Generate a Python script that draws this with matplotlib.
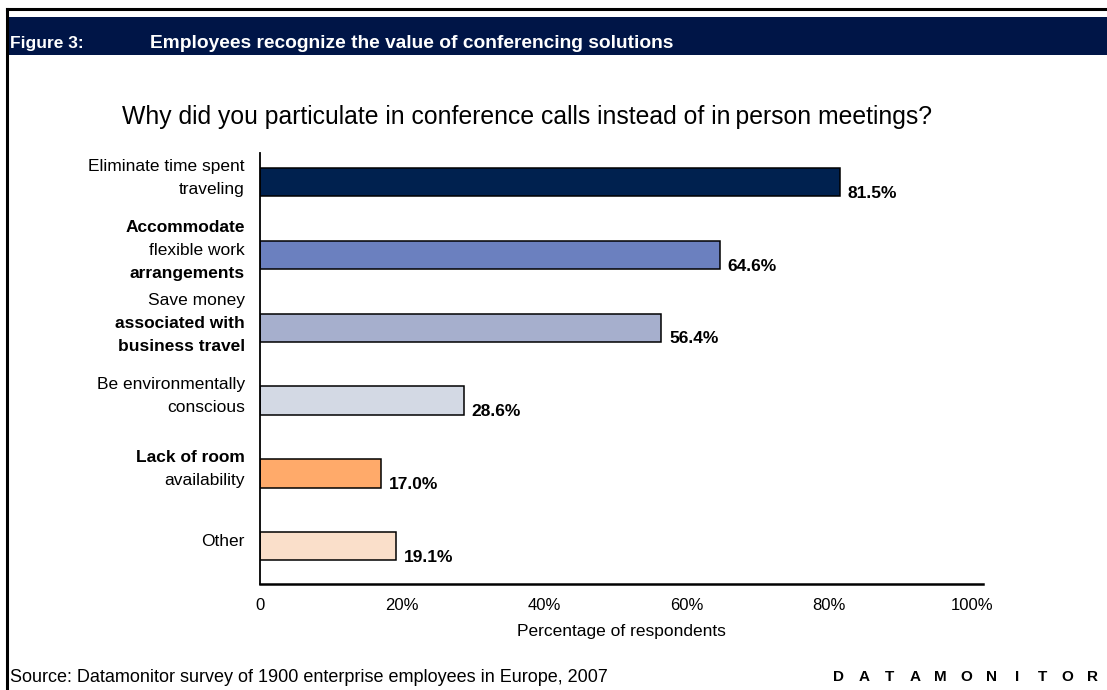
import matplotlib
matplotlib.use("Agg")
import matplotlib.pyplot as plt
from matplotlib.patches import Rectangle
from matplotlib.lines import Line2D
from matplotlib.transforms import blended_transform_factory, offset_copy

plt.rcParams['font.family'] = ['Liberation Sans', 'DejaVu Sans']

# ---- data ----
categories = [
    "Eliminate time spent\ntraveling",
    "Accommodate\nflexible work\narrangements",
    "Save money\nassociated with\nbusiness travel",
    "Be environmentally\nconscious",
    "Lack of room\navailability",
    "Other",
]
bold_lines = [
    [False, False],
    [True, False, True],
    [False, True, True],
    [False, False],
    [True, False],
    [False],
]
values = [81.5, 64.6, 56.4, 28.6, 17.0, 19.1]
value_labels = ["81.5%", "64.6%", "56.4%", "28.6%", "17.0%", "19.1%"]
bar_colors = ["#00214F", "#6B80BF", "#A6AFCD", "#D3D9E4", "#FFAA6A", "#FADFCA"]
xticks = [0, 20, 40, 60, 80, 100]
xtick_labels = ["0", "20%", "40%", "60%", "80%", "100%"]

title_prefix = "Figure 3:"
title_text = "Employees recognize the value of conferencing solutions"
subtitle = "Why did you particulate in conference calls instead of in\u2009person meetings?"
xlabel = "Percentage of respondents"
source = "Source: Datamonitor survey of 1900 enterprise employees in Europe, 2007"
brand = "DATAMONITOR"

W, H = 1107, 690
fig = plt.figure(figsize=(W / 100, H / 100), dpi=100)
fig.patch.set_facecolor("white")

def fx(px):
    return px / W

def fy(py):
    return 1 - py / H

# outer border lines (top and left)
fig.add_artist(Line2D([fx(7), 1], [fy(9), fy(9)], color="black", lw=2.2))
fig.add_artist(Line2D([fx(7), fx(7)], [fy(9), 0], color="black", lw=2.2))

# header bar
fig.add_artist(Rectangle((fx(9), fy(55)), 1 - fx(9), fy(17) - fy(55),
                         facecolor="#001547", edgecolor="none"))
fig.text(fx(10), fy(48), title_prefix, color="white", fontsize=12.5,
         fontweight="bold", va="baseline", ha="left")
fig.text(fx(150), fy(48), title_text, color="white", fontsize=13.8,
         fontweight="bold", va="baseline", ha="left")

# subtitle
fig.text(fx(527), fy(117), subtitle, fontsize=17.8, ha="center", va="center")

# axes
ax = fig.add_axes([fx(260), fy(584), fx(983) - fx(260), fy(153) - fy(584)])
n = len(categories)
ypos = list(range(n))
ax.barh(ypos, values, height=0.39, color=bar_colors, edgecolor="black",
        linewidth=1.1)
ax.set_xlim(0, 101.6)
ax.set_ylim(n - 0.48, -0.4)
for s in ["top", "right"]:
    ax.spines[s].set_visible(False)
ax.spines["left"].set_linewidth(1.3)
ax.spines["bottom"].set_linewidth(1.8)
ax.set_xticks(xticks)
ax.set_xticklabels(xtick_labels, fontsize=12)
ax.tick_params(axis="x", length=0, pad=10)
ax.set_yticks([])
ax.set_xlabel(xlabel, fontsize=12.5, labelpad=8)

# value labels
for y, v, lab in zip(ypos, values, value_labels):
    ax.annotate(lab, xy=(v, y), xytext=(5.5, -8), textcoords="offset points",
                fontsize=12.5, fontweight="bold", ha="left", va="center")

# category labels (line by line, mixed weights)
trans = blended_transform_factory(ax.transAxes, ax.transData)
line_step = 16.5  # points
for y, cat, bl in zip(ypos, categories, bold_lines):
    lines = cat.split("\n")
    k = len(lines)
    for i, (ln, b) in enumerate(zip(lines, bl)):
        off = ((k - 1) / 2 - i) * line_step + 3
        t = offset_copy(trans, fig=fig, x=-11, y=off, units="points")
        ax.text(0, y, ln, transform=t, ha="right", va="center",
                fontsize=12.5, fontweight="bold" if b else "normal")

# source
fig.text(fx(10), fy(677), source, fontsize=13, ha="left", va="center")
x0, x1 = 839, 1093
for i, ch in enumerate(brand):
    xp = x0 + (x1 - x0) * i / (len(brand) - 1)
    fig.text(fx(xp), fy(677), ch, fontsize=11, fontweight="bold",
             ha="center", va="center")

fig.savefig("out.png", dpi=100)
